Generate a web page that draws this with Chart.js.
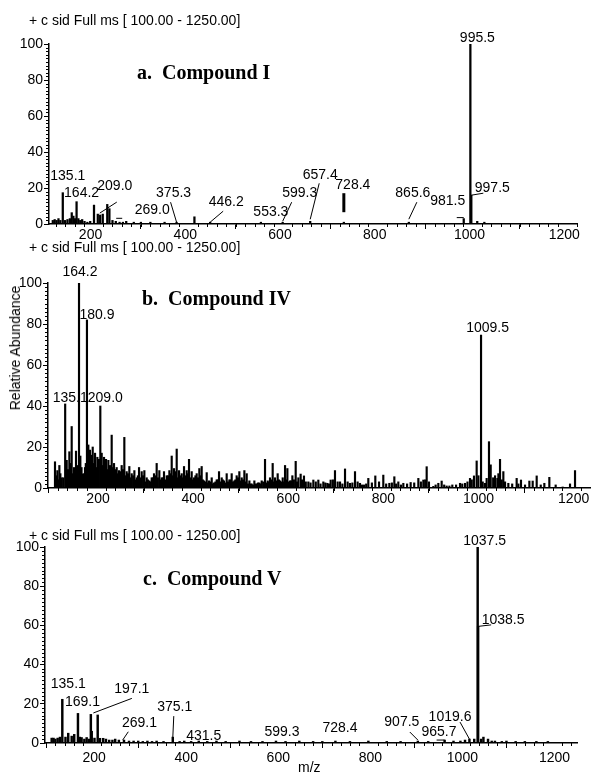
<!DOCTYPE html>
<html>
<head>
<meta charset="utf-8">
<script src="https://cdn.jsdelivr.net/npm/chart.js@4.4.1/dist/chart.umd.min.js"></script>
<style>
  body { margin: 0; background: #fff; }
  #page { position: relative; width: 593px; height: 780px; overflow: hidden; font-family: "Liberation Sans", Arial, sans-serif; color: #000; }
  canvas { position: absolute; left: 0; }
  .hdr { position: absolute; left: 29px; font-size: 14px; line-height: 14px; white-space: nowrap; }
  .ttl { position: absolute; font: bold 20px "Liberation Serif", "Times New Roman", serif; line-height: 20px; white-space: nowrap; }
  .axt { position: absolute; font-size: 14px; line-height: 14px; white-space: nowrap; }
</style>
</head>
<body>
<div id="page">
  <canvas id="specA" width="593" height="245" style="top:0px"></canvas>
  <canvas id="specB" width="593" height="258" style="top:250px"></canvas>
  <canvas id="specC" width="593" height="265" style="top:515px"></canvas>

  <div class="hdr" style="top:13px">+ c sid Full ms [ 100.00 - 1250.00]</div>
  <div class="hdr" style="top:240px">+ c sid Full ms [ 100.00 - 1250.00]</div>
  <div class="hdr" style="top:528px">+ c sid Full ms [ 100.00 - 1250.00]</div>

  <div class="ttl" style="left:137px;top:62px">a.&nbsp; Compound I</div>
  <div class="ttl" style="left:142px;top:288px">b.&nbsp; Compound IV</div>
  <div class="ttl" style="left:143px;top:568px">c.&nbsp; Compound V</div>

  <div class="axt" style="left:15px;top:348px;transform:translate(-50%,-50%) rotate(-90deg)">Relative Abundance</div>
  <div class="axt" style="left:298px;top:760px">m/z</div>
</div>

<script>
// x axis labels shared by all three spectra
var mzTicks = [200, 400, 600, 800, 1000, 1200];

// a. Compound I
var mzA  = [114, 118, 122, 126, 130, 135.1, 140, 145, 150, 154, 157.5, 161, 164.2, 168, 172, 176, 181, 187, 193,
            201, 209.0, 214, 219.5, 229, 233.5, 240, 247, 255, 262, 269.0, 285, 300, 320, 350, 375.3, 413,
            446.2, 553.3, 599.3, 657.4, 728.4, 865.6, 981.5, 995.5, 997.5, 1010, 1025];
var intA = [2, 2.5, 2, 3, 2, 17.4, 2, 2.5, 3, 6.3, 4.4, 3, 12.4, 3, 2, 2.5, 1.5, 1, 1.5,
            10.5, 5.5, 5, 5.5, 10.9, 8.5, 2, 1.5, 1, 1, 1.5, 1, 1, 1, 1, 1, 4,
            1, 1, 1, 1.5, 1, 1, 3, 100, 16, 1.5, 1];
var tagsA = [135.1, 164.2, 209.0, 269.0, 375.3, 446.2, 553.3, 599.3, 657.4, 728.4, 865.6, 981.5, 995.5, 997.5];

// b. Compound IV
var mzB  = [113.7, 116, 118.7, 121, 122.9, 125, 127.8, 131, 135.1, 137, 138.3, 141, 143.9, 146, 148.8, 151, 153.7,
            156, 157.9, 161, 164.2, 165.5, 167, 169.5, 171.9, 174, 176.8, 178.5, 180.9, 182, 183.8, 185.5, 187.3,
            190, 193, 195.5, 197.9, 200.5, 202.8, 206, 209.0, 211.9, 214, 216.8, 219, 221, 223.5, 225.9, 229.5,
            232.9, 235.5, 237.8, 240.5, 243.4, 246, 248.3, 251, 253.9, 256.5, 259.5, 262, 264.4, 267, 270, 272.5,
            275, 278, 280.6, 283, 285.5, 288, 290.4, 293, 296, 299, 301.6, 304, 306.5, 309, 312.1, 314.5, 317,
            319.5, 321.9, 324.5, 327.5, 330, 333.1, 335.5, 338, 340.5, 342.9, 345.5, 348.6, 351.5, 354.2, 356.5,
            359.1, 361.5, 364, 367, 369.6, 372, 374.5, 377.5, 380.1, 382.5, 385, 388, 390.6, 393, 395.5, 398,
            401.1, 403.5, 406, 409, 411.6, 414.5, 417.2, 419.5, 422.1, 424.5, 427, 430, 432.7, 435, 437.6, 440.5,
            443.2, 445.5, 448.1, 451, 453.7, 456, 458.6, 461.5, 464.2, 466.5, 469.1, 472, 474.7, 477.5, 480.3,
            483, 485.2, 488, 490.8, 493, 495.7, 498.5, 501.3, 504, 506.3, 509, 511.9, 514.5, 516.8, 519.5, 522.4,
            525, 527.3, 530, 532.9, 535.5, 537.8, 540.5, 543.4, 546, 548.3, 551.5, 555.3, 558, 560.9, 563.5,
            565.8, 568.5, 571.4, 574, 576.3, 579, 581.9, 584.5, 586.9, 589.5, 592.5, 595, 597.4, 600, 602.3, 605,
            607.9, 610.5, 612.8, 616, 619.8, 622.5, 625.4, 630.2, 633, 637.2, 641, 646.4, 651, 656.9, 662, 667.4,
            672, 677.9, 682, 686.3, 690, 693.3, 698, 702.4, 708, 713, 718, 723.5, 729, 734, 739, 744.5, 750, 755,
            759, 763.4, 768, 772.5, 780, 787.2, 795, 804, 810, 816.7, 822, 827.2, 831, 835.6, 841, 846.1, 854,
            861.5, 869, 877.7, 883, 888.2, 892, 895.2, 900, 909.2, 914, 919.7, 926.7, 932, 937.2, 943, 949.1, 957,
            965.3, 970, 975.8, 981, 986.3, 990, 994.7, 1000.3, 1004, 1009.5, 1013, 1017.8, 1021.3, 1026.2, 1029.8,
            1035, 1039, 1043.8, 1046, 1049.4, 1053, 1056.4, 1060, 1066.9, 1075, 1084.4, 1088, 1093.5, 1102, 1111.1,
            1118.1, 1126.5, 1135, 1142.6, 1153.1, 1166.4, 1181.1, 1196.6, 1207.1];
var intB = [12.8, 6, 8.5, 4, 11, 7, 5, 5, 41, 8, 13.5, 9, 17.7, 12, 30, 7, 10,
            9, 18, 11, 100, 8, 15.6, 10, 6.8, 7, 10, 12, 82, 9, 21, 13, 18.5,
            16, 20, 12, 17, 10, 15, 14, 40, 17, 11, 15, 12, 14, 9, 13.5, 11,
            25.8, 10, 12, 9, 10, 7, 8.5, 8, 11, 9, 24.7, 6, 8, 7, 10.5, 5,
            7, 6, 8.5, 4, 5, 6, 10, 5, 8, 6, 8.5, 3, 5, 4, 3.5, 3, 5,
            5, 7, 6, 12, 5, 8.5, 4, 5, 5, 8, 4, 6, 6, 8.5, 7,
            15.6, 6, 9.5, 8, 19, 5, 8.5, 6, 7, 5, 10.5, 6, 8.5, 7, 14, 5,
            8, 4, 5, 6, 7, 5, 9.5, 6, 10.5, 4, 3.5, 3, 7.5, 2.5, 3.5, 3,
            5, 2, 2.5, 3, 4, 4, 8, 3, 5, 4, 3.5, 2.5, 7, 3, 4,
            4, 7, 3, 3.5, 4, 6, 5, 8, 3.5, 5, 4, 8.5, 3, 7, 2, 3.5,
            2, 2, 1.5, 3.5, 2, 2, 2.5, 2.5, 2, 3.5, 3, 14, 2.5, 3.5, 3,
            5, 4, 12, 3, 5, 3.5, 7, 4, 3.5, 3, 5, 3, 11, 4, 9.5, 3,
            3.5, 3.5, 6, 4, 13, 3, 5, 6.8, 4, 5.9, 3, 3, 2.5, 3.9, 3, 3.9,
            2, 3, 2.5, 2.3, 2, 3.9, 4, 8.5, 3, 3, 2, 9.3, 3, 2.3, 2.5, 8, 3, 2.3,
            1.5, 1.5, 2, 4.7, 2.5, 5.9, 3, 6.3, 2, 2.3, 2.5, 5.5, 2, 3, 1.5, 2.3, 2,
            2.7, 2.5, 4.7, 3, 3.9, 4, 10.4, 3, 0.8, 1.5, 2.3, 3.4, 1.5, 1, 1, 1.5, 1.5,
            2.3, 2, 2.3, 3, 4.7, 4, 5.9, 13.2, 6, 74.6, 3, 2.3, 4.7, 22.6, 11.3,
            5, 6, 4.7, 7, 14, 4, 8, 3, 2.3, 2, 4.7, 2, 3.9, 1.5, 3.4,
            3.4, 5.9, 1.5, 2.3, 5.2, 1.5, 0.5, 2, 8.5];
var tagsB = [135.1, 164.2, 180.9, 209.0, 1009.5];

// c. Compound V
var mzC  = [112, 116, 120, 125, 130, 135.1, 142, 148, 155.5, 161, 169.1, 173, 177, 183, 188, 193, 197.1, 199, 205,
            212, 217, 224, 230, 237, 244, 250, 258, 269.1, 280, 290, 300, 310, 320, 330, 340, 355, 375.1, 390, 400,
            415, 431.5, 450, 470, 490, 520, 545, 570, 599.3, 620, 650, 680, 700, 728.4, 760, 800, 840, 870, 907.5,
            930, 965.7, 985, 1000, 1010, 1019.6, 1030, 1037.5, 1038.5, 1045, 1050, 1060, 1068, 1075, 1090, 1100,
            1120, 1140, 1165, 1190];
var intC = [2.5, 2.5, 2, 2.5, 3, 22.3, 3, 5, 3.5, 4.4, 15.1, 3, 2.8, 2, 2.8, 2, 14.6, 6, 2.5,
            14.3, 2.4, 2.4, 2, 1.5, 1.5, 2, 1.5, 1.5, 1, 1, 1, 0.8, 1, 0.8, 1, 0.8, 3, 0.8, 1,
            0.8, 1, 0.8, 1, 0.8, 1, 0.8, 0.8, 1, 0.8, 1, 0.8, 0.8, 1, 0.8, 1, 0.8, 0.8, 1,
            0.8, 1.5, 1, 1, 1.5, 2, 2, 100, 59.5, 2, 3, 2, 1, 1, 0.8, 1,
            0.8, 0.8, 0.8, 0.8];
var tagsC = [135.1, 169.1, 197.1, 269.1, 375.1, 431.5, 599.3, 728.4, 907.5, 965.7, 1019.6, 1037.5, 1038.5];

// label placement: text offset from peak top [dx, dy], optional leader [x1, y1, x2, y2, width]
var placeA = [[5, -17], [5, -9], [17, -28, [2, -1, 19, -12]], [26, -11, [-10, -3, -4, -3]],
              [-3, -29, [0, 0, -6, -20]], [16, -20, [0, 0, 13, -11]], [10, -10], [17, -29, [0, -1, 9, -20]],
              [10, -46, [0, -2, 9, -38]], [9, -37, [0, -29, 0, -10, 3]], [4, -29, [0, -3, 8, -20]],
              [-16, -17, [-7, -1, 0, -1]], [7, -6], [21, -7, [0, 0, 12, -2]]];
var placeB = [[5, -6], [1, -11], [10, -5], [5, -8], [6.5, -7]];
var placeC = [[6, -15], [4.5, -11], [41, -25, [2.5, -1.4, 41, -16]], [15.5, -17, [-1.3, 0, 4.3, -8.3]],
              [2, -30, [0, 1, 1, -21]], [5, -5], [6, -9], [4.6, -13], [-16, -19, [-8, -9, 0, -1]],
              [-5.6, -8, [-8, 0, 0, 0]], [-19.4, -22, [-9.4, -17, 0, 0]], [7, -6], [25, -6, [0, 0, 13, -1.5]]];

var FONT = { family: '"Liberation Sans", Arial, sans-serif', size: 14 };

// short ticks: every 20 on m/z, every 2 on abundance
var minorTicks = {
  id: 'minorTicks',
  afterDraw: function (chart) {
    var ctx = chart.ctx, xs = chart.scales.x, ys = chart.scales.y;
    ctx.save();
    ctx.strokeStyle = '#000';
    ctx.lineWidth = 1;
    ctx.beginPath();
    for (var v = Math.ceil(xs.min / 20) * 20; v <= xs.max; v += 20) {
      if (v % 200 === 0) continue;
      var px = Math.round(xs.getPixelForValue(v)) + 0.5;
      ctx.moveTo(px, xs.top);
      ctx.lineTo(px, xs.top + 3);
    }
    for (var w = 2; w < 100; w += 2) {
      if (w % 20 === 0) continue;
      var py = Math.round(ys.getPixelForValue(w)) + 0.5;
      ctx.moveTo(ys.right - 3, py);
      ctx.lineTo(ys.right, py);
    }
    ctx.stroke();
    ctx.restore();
  }
};

// m/z labels on selected peaks
var peakLabels = {
  id: 'peakLabels',
  afterDatasetsDraw: function (chart, args, opts) {
    var ctx = chart.ctx, xs = chart.scales.x, ys = chart.scales.y;
    ctx.save();
    ctx.fillStyle = '#000';
    ctx.strokeStyle = '#000';
    ctx.font = FONT.size + 'px ' + FONT.family;
    ctx.textAlign = 'center';
    ctx.textBaseline = 'middle';
    opts.tags.forEach(function (m, i) {
      var k = opts.mz.indexOf(m);
      var px = xs.getPixelForValue(m);
      var py = ys.getPixelForValue(opts.inten[k]);
      var p = opts.place[i];
      if (p[2]) {
        var l = p[2];
        ctx.lineWidth = l[4] || 1;
        ctx.beginPath();
        ctx.moveTo(px + l[0], py + l[1]);
        ctx.lineTo(px + l[2], py + l[3]);
        ctx.stroke();
      }
      ctx.fillText(m.toFixed(1), px + p[0], py + p[1]);
    });
    ctx.restore();
  }
};

function drawSpectrum(id, mz, inten, tags, place, box) {
  return new Chart(document.getElementById(id), {
    type: 'bar',
    data: {
      datasets: [{
        data: mz.map(function (m, i) { return { x: m, y: inten[i] }; }),
        backgroundColor: '#000',
        borderWidth: 0,
        barThickness: box.bar
      }]
    },
    options: {
      responsive: false,
      animation: false,
      devicePixelRatio: 1,
      layout: { padding: { top: box.top, right: box.right, bottom: 0, left: 0 } },
      plugins: {
        legend: { display: false },
        tooltip: { enabled: false },
        peakLabels: { mz: mz, inten: inten, tags: tags, place: place }
      },
      scales: {
        x: {
          type: 'linear',
          min: box.xMin,
          max: box.xMax,
          offset: false,
          grid: { drawOnChartArea: false, color: '#000', tickLength: 5 },
          border: { color: '#000', width: 1.5 },
          ticks: {
            font: FONT, color: '#000', padding: box.xPad, maxRotation: 0, autoSkip: false,
            labelOffset: box.xShift,
            callback: function (v) { return String(v); }
          },
          afterBuildTicks: function (s) { s.ticks = mzTicks.map(function (v) { return { value: v }; }); },
          afterFit: function (s) { s.height = box.xH; }
        },
        y: {
          min: 0,
          max: 100,
          grid: { drawOnChartArea: false, color: '#000', tickLength: 5 },
          border: { color: '#000', width: 1.5 },
          ticks: { font: FONT, color: '#000', padding: 1, stepSize: 20 },
          afterFit: function (s) { s.width = box.left; }
        }
      }
    },
    plugins: [minorTicks, peakLabels]
  });
}

drawSpectrum('specA', mzA, intA, tagsA, placeA,
  { top: 44, right: 16, left: 49, xH: 21, xMin: 106, xMax: 1220.6, xPad: -2, xShift: -3, bar: 1.6 });
drawSpectrum('specB', mzB, intB, tagsB, placeB,
  { top: 33, right: 3, left: 48, xH: 20, xMin: 99, xMax: 1238.6, xPad: -2, xShift: 2, bar: 1.5 });
drawSpectrum('specC', mzC, intC, tagsC, placeC,
  { top: 32, right: 16, left: 45, xH: 37, xMin: 97.5, xMax: 1253.3, xPad: 2, xShift: 2, bar: 1.8 });
</script>
</body>
</html>
